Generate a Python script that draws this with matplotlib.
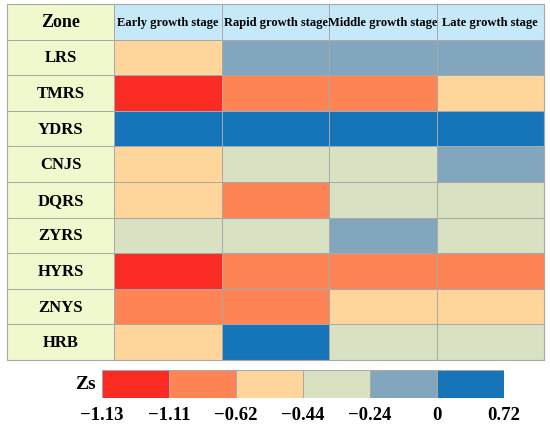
import numpy as np
import matplotlib
matplotlib.use("Agg")
import matplotlib.pyplot as plt
from matplotlib.colors import ListedColormap, BoundaryNorm

zones = ["LRS", "TMRS", "YDRS", "CNJS", "DQRS", "ZYRS", "HYRS", "ZNYS", "HRB"]
stages = ["Early growth stage", "Rapid growth stage", "Middle growth stage", "Late growth stage"]
# class index 0..5 (from most negative to most positive Zs)
classes = [
    [2, 4, 4, 4],
    [0, 1, 1, 2],
    [5, 5, 5, 5],
    [2, 3, 3, 4],
    [2, 1, 3, 3],
    [3, 3, 4, 3],
    [0, 1, 1, 1],
    [1, 1, 2, 2],
    [2, 5, 3, 3],
]
bounds_labels = ["\u22121.13", "\u22121.11", "\u22120.62", "\u22120.44", "\u22120.24", "0", "0.72"]

class_colors = ["#F92B23", "#FE8456", "#FED59A", "#D8E1C2", "#81A6BD", "#1675B9"]
header_color = "#C6E9FA"
zone_color = "#F0F9CE"
edge = "#A8A8A8"

plt.rcParams['font.family'] = ['Liberation Serif', 'DejaVu Serif']

W, H = 550, 427
fig = plt.figure(figsize=(W / 100, H / 100), dpi=100)

# table
nrow = len(zones) + 1
ncol = len(stages) + 1
grid = np.zeros((nrow, ncol), dtype=int)
grid[0, :] = 6
grid[:, 0] = 7
grid[1:, 1:] = np.array(classes)
cmap = ListedColormap(class_colors + [header_color, zone_color])
norm = BoundaryNorm(np.arange(-0.5, 8.5, 1), cmap.N)

ax = fig.add_axes([7 / W, 1 - 361 / H, 537 / W, 356 / H])
ax.pcolormesh(np.arange(ncol + 1), np.arange(nrow + 1), grid, cmap=cmap, norm=norm,
              edgecolors=edge, linewidth=0.5)
ax.set_xlim(0, ncol)
ax.set_ylim(nrow, 0)
ax.set_axis_off()
ax.add_patch(plt.Rectangle((0, 0), ncol, nrow, fill=False, edgecolor=edge, lw=0.8, clip_on=False))

ax.text(0.5, 0.5, "Zone", ha="center", va="center", fontsize=13, fontweight="bold")
for j, s in enumerate(stages):
    ax.text(j + 1.5, 0.5, s, ha="center", va="center", fontsize=9, fontweight="bold")
for i, z in enumerate(zones):
    ax.text(0.5, i + 1.5, z, ha="center", va="center", fontsize=12, fontweight="bold")

# colour bar
cax = fig.add_axes([102 / W, 1 - 399 / H, 402 / W, 28 / H])
ncls = len(class_colors)
cax.pcolormesh(np.arange(ncls + 1), [0, 1], np.arange(ncls)[None, :],
               cmap=ListedColormap(class_colors), vmin=-0.5, vmax=ncls - 0.5,
               edgecolors=edge, linewidth=0.5)
cax.set_xlim(0, ncls)
cax.set_ylim(0, 1)
for sp in cax.spines.values():
    sp.set_visible(False)
cax.set_yticks([])
cax.set_xticks(np.arange(ncls + 1))
cax.set_xticklabels(bounds_labels, fontsize=13.5, fontweight="bold")
cax.tick_params(axis="x", length=0, pad=6)
cax.text(-0.015, 0.5, "Zs", transform=cax.transAxes, ha="right", va="center",
         fontsize=14, fontweight="bold")

fig.savefig("out.png", dpi=100)
